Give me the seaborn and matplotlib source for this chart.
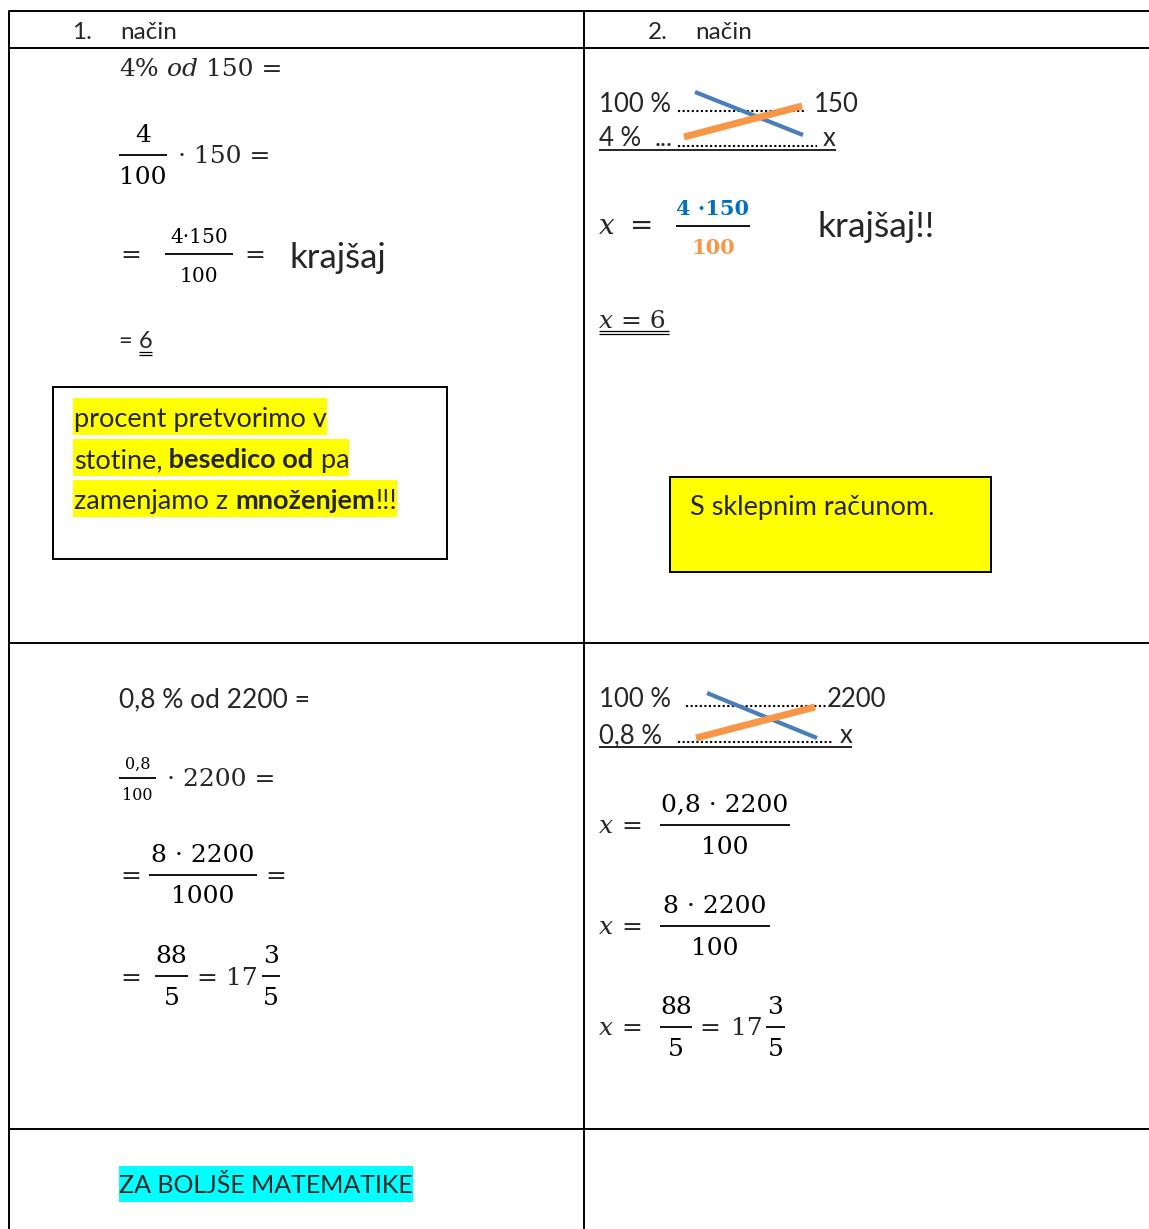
import matplotlib
matplotlib.use('Agg')
import matplotlib.pyplot as plt
from matplotlib.patches import Rectangle
import seaborn as sns

# Text content of the table
header_nums = ["1.", "2."]
header_word = "način"

task_a = ["4%", " od", " 150 ="]
frac_a = ["4", "100", "· 150 ="]
reduce_a = ["4·150", "100", "krajšaj"]
result_a = ["= ", "6"]
note_lines = [
    [("procent pretvorimo v", "normal")],
    [("stotine,", "normal"), (" besedico od", "bold"), (" pa", "normal")],
    [("zamenjamo z ", "normal"), ("množenjem", "bold"), ("!!!", "normal")],
]

prop_a = ["100 %", "150", "4 %", "x"]
x_frac_a = ["4 ·150", "100", "krajšaj!!"]
x_result_a = ["x", " = 6"]
method_note = "S sklepnim računom."

task_b = "0,8 % od 2200 ="
frac_b = ["0,8", "100", "· 2200 ="]
step_b = ["8 · 2200", "1000"]
mixed_b = ["88", "5", "17", "3", "5"]

prop_b = ["100 %", "2200", "0,8 %", "x"]
x_steps_b = [["0,8 · 2200", "100"], ["8 · 2200", "100"]]

footer = "ZA BOLJŠE MATEMATIKE"

BLUE_LINE = "#4a7ebb"
ORANGE = "#f79646"
BLUE_TXT = "#0070c0"

sns.set_style("white")
plt.rcParams['font.family'] = ['Lato', 'DejaVu Sans']

W, H = 1149, 1229
fig = plt.figure(figsize=(W / 100, H / 100), dpi=100)
ax = fig.add_axes([0, 0, 1, 1])
ax.set_xlim(0, W)
ax.set_ylim(H, 0)
ax.axis('off')
renderer = fig.canvas.get_renderer()

SANS = ['Lato', 'DejaVu Sans']
SERIF = ['DejaVu Serif']


def txt(x, y, s, size, family=SANS, ha='left', **kw):
    return ax.text(x, y, s, fontsize=size, family=family, ha=ha,
                   va='baseline', **kw)


def runs(x, y, parts, size, family=SANS, style='normal'):
    for s, w in parts:
        t = txt(x, y, s, size, family=family, fontweight=w, fontstyle=style)
        x += t.get_window_extent(renderer).width
    return x


def hline(x0, x1, y, lw=1.2, color='black', **kw):
    ax.plot([x0, x1], [y, y], color=color, lw=lw, solid_capstyle='butt', **kw)


def frac(x0, x1, ly, num, den, size, nb, db, ncol='black', dcol='black',
         weight='normal'):
    hline(x0, x1, ly, lw=1.3)
    cx = (x0 + x1) / 2
    txt(cx, ly - nb, num, size, family=SERIF, ha='center', color=ncol,
        fontweight=weight)
    txt(cx, ly + db, den, size, family=SERIF, ha='center', color=dcol,
        fontweight=weight)


def dots(x0, x1, y):
    ax.plot([x0, x1], [y, y], color='black', lw=1.5,
            linestyle=(0, (1, 1.2)), dash_capstyle='butt')


# table grid
hline(9, W, 11, lw=1.4)
hline(9, W, 48, lw=1.4)
hline(9, W, 643, lw=1.4)
hline(9, W, 1129, lw=1.4)
ax.plot([9, 9], [11, H], color='black', lw=1.4)
ax.plot([584, 584], [11, H], color='black', lw=1.4)

# header
txt(72, 39, header_nums[0], 17.5)
txt(120, 39, header_word, 17.5)
txt(648, 39, header_nums[1], 17.5)
txt(695, 39, header_word, 17.5)

# ---- cell 1 ----
x = runs(119, 76, [(task_a[0], 'normal')], 18, family=SERIF)
x = runs(x, 76, [(task_a[1], 'normal')], 18, family=SERIF, style='italic')
runs(x, 76, [(task_a[2], 'normal')], 18, family=SERIF)

frac(119, 167, 155, frac_a[0], frac_a[1], 18, 13, 29)
txt(178, 163, frac_a[2], 18, family=SERIF)

txt(120, 262, "=", 18, family=SERIF)
frac(165, 233, 254, reduce_a[0], reduce_a[1], 14.5, 11, 28)
txt(244, 262, "=", 18, family=SERIF)
txt(289, 268, reduce_a[2], 25)

x = runs(119, 348, [(result_a[0], 'normal')], 17)
t = txt(x, 348, result_a[1], 17)
w = t.get_window_extent(renderer).width
hline(x, x + w, 352, lw=0.9)
hline(x, x + w, 355, lw=0.9)

ax.add_patch(Rectangle((53, 387), 394, 172, fill=False, ec='black', lw=1.4))
for i, line in enumerate(note_lines):
    base = 427 + 41 * i
    x1 = runs(74, base, line, 19.5)
    ax.add_patch(Rectangle((73, base - 29), x1 - 73, 37, color='#ffff00',
                           zorder=0, lw=0))

# ---- cell 2 ----
txt(599, 112, prop_a[0], 18.5)
dots(678, 805, 111)
txt(814, 112, prop_a[1], 18.5)
txt(599, 146, prop_a[2], 18.5)
txt(655, 146, "...", 18.5)
dots(678, 817, 146)
txt(823, 146, prop_a[3], 18.5)
hline(599, 836, 150, lw=1.2)
ax.plot([695, 803], [92, 135], color=BLUE_LINE, lw=3, solid_capstyle='butt')
ax.plot([684, 802], [137, 106], color=ORANGE, lw=5, solid_capstyle='butt')

txt(599, 234, "x", 20, family=SERIF, fontstyle='italic')
txt(630, 234, "=", 20, family=SERIF)
frac(676, 750, 226, x_frac_a[0], x_frac_a[1], 15, 11, 28,
     ncol=BLUE_TXT, dcol=ORANGE, weight='bold')
txt(818, 237, x_frac_a[2], 25.5)

x = runs(599, 328, [(x_result_a[0], 'normal')], 18, family=SERIF,
         style='italic')
runs(x, 328, [(x_result_a[1], 'normal')], 18, family=SERIF)
hline(599, 669, 331, lw=0.9)
hline(599, 669, 334, lw=0.9)

ax.add_patch(Rectangle((670, 477), 321, 95, fc='#ffff00', ec='black',
                       lw=1.4))
txt(690, 515, method_note, 19.5)

# ---- cell 3 ----
txt(119, 707, task_b, 19)

frac(119, 156, 778, frac_b[0], frac_b[1], 11.5, 9, 22)
txt(167, 786, frac_b[2], 18, family=SERIF)

txt(120, 883, "=", 18, family=SERIF)
frac(149, 257, 875, step_b[0], step_b[1], 18, 13, 28)
txt(265, 883, "=", 18, family=SERIF)

txt(120, 985, "=", 18, family=SERIF)
frac(155, 188, 976, mixed_b[0], mixed_b[1], 18, 13, 29)
txt(196, 985, "=", 18, family=SERIF)
txt(226, 985, mixed_b[2], 18, family=SERIF)
frac(262, 280, 976, mixed_b[3], mixed_b[4], 18, 13, 29)

# ---- cell 4 ----
txt(599, 707, prop_b[0], 18.5)
dots(686, 826, 706)
txt(827, 707, prop_b[1], 18.5)
txt(599, 743, prop_b[2], 18.5)
dots(678, 832, 742)
txt(840, 743, prop_b[3], 18.5)
hline(599, 852, 747, lw=1.2)
ax.plot([707, 817], [693, 738], color=BLUE_LINE, lw=3, solid_capstyle='butt')
ax.plot([696, 815], [738, 707], color=ORANGE, lw=5, solid_capstyle='butt')

for (num, den), ly, x1 in zip(x_steps_b, [825, 926], [790, 770]):
    txt(599, ly + 8, "x", 18, family=SERIF, fontstyle='italic')
    txt(621, ly + 8, "=", 18, family=SERIF)
    frac(660, x1, ly, num, den, 18, 13, 29)

ly = 1027
txt(599, ly + 8, "x", 18, family=SERIF, fontstyle='italic')
txt(621, ly + 8, "=", 18, family=SERIF)
frac(660, 692, ly, mixed_b[0], mixed_b[1], 18, 13, 29)
txt(699, ly + 8, "=", 18, family=SERIF)
txt(731, ly + 8, mixed_b[2], 18, family=SERIF)
frac(766, 785, ly, mixed_b[3], mixed_b[4], 18, 13, 29)

# ---- footer ----
x1 = runs(119, 1193, [(footer, 'normal')], 18)
ax.add_patch(Rectangle((119, 1166), x1 - 119, 36, color='#00ffff', zorder=0,
                       lw=0))

fig.savefig('out.png', dpi=100)
